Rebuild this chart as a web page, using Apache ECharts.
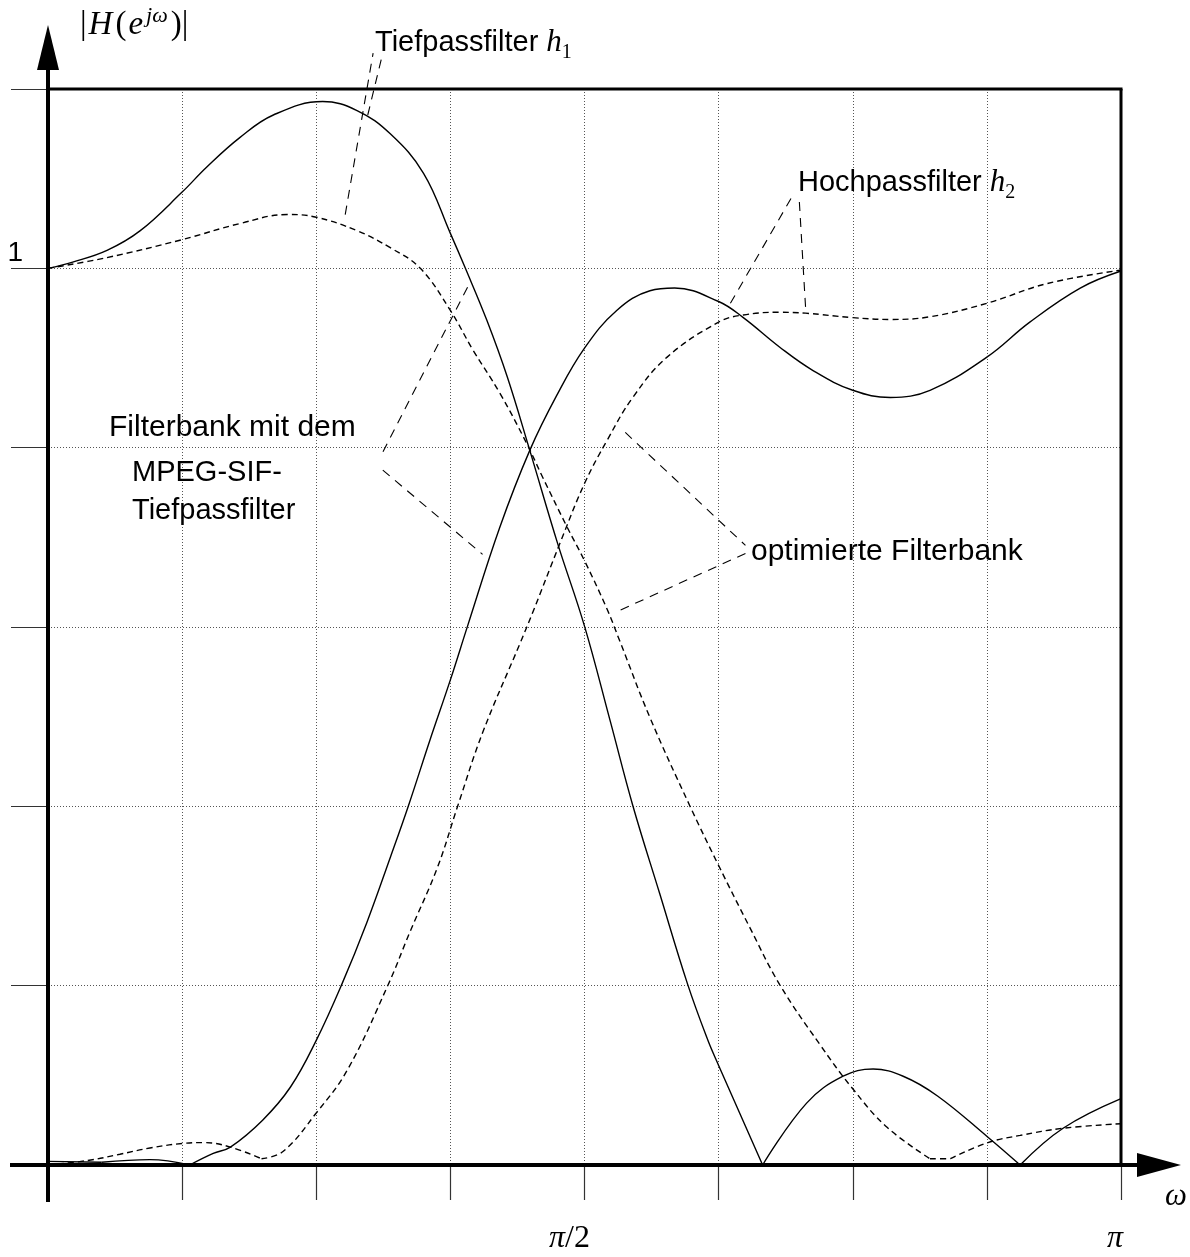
<!DOCTYPE html>
<html>
<head>
<meta charset="utf-8">
<script src="https://cdn.jsdelivr.net/npm/echarts@6/dist/echarts.min.js"></script>
<style>
  html, body { margin: 0; padding: 0; background: #fff; }
  #chart { width: 1190px; height: 1257px; }
</style>
</head>
<body>
<div id="chart"></div>
<script>
// Frequency response magnitudes |H(e^jw)|, x given as w/pi.
// Filter bank built with the MPEG-SIF lowpass (solid curves)
const mpegLowpass = [
  [0, 1.000], [0.023, 1.007], [0.055, 1.020], [0.086, 1.042], [0.125, 1.085],
  [0.148, 1.113], [0.179, 1.146], [0.210, 1.171], [0.256, 1.186], [0.288, 1.176],
  [0.319, 1.150], [0.350, 1.106], [0.375, 1.039], [0.389, 1.000], [0.409, 0.942],
  [0.428, 0.879], [0.449, 0.797], [0.475, 0.693], [0.500, 0.601], [0.524, 0.495],
  [0.545, 0.401], [0.570, 0.303], [0.596, 0.202], [0.615, 0.139], [0.625, 0.111],
  [0.666, 0.000], [0.707, 0.069], [0.741, 0.099], [0.769, 0.107], [0.797, 0.099],
  [0.829, 0.077], [0.876, 0.031], [0.906, 0.000], [0.946, 0.041], [1.000, 0.074]
];
const mpegHighpass = [
  [0, 0.004], [0.050, 0.003], [0.095, 0.006], [0.132, 0.000], [0.154, 0.013],
  [0.170, 0.020], [0.200, 0.050], [0.226, 0.087], [0.250, 0.139], [0.274, 0.202],
  [0.297, 0.270], [0.319, 0.343], [0.336, 0.401], [0.356, 0.474], [0.375, 0.541],
  [0.391, 0.601], [0.421, 0.711], [0.449, 0.797], [0.474, 0.858], [0.500, 0.911],
  [0.530, 0.953], [0.561, 0.975], [0.584, 0.978], [0.625, 0.963], [0.648, 0.945],
  [0.682, 0.912], [0.713, 0.886], [0.750, 0.864], [0.785, 0.856], [0.822, 0.864],
  [0.875, 0.901], [0.915, 0.940], [0.962, 0.978], [1.000, 0.997]
];
// Optimised filter bank (dashed curves)
const optLowpass = [
  [0, 1.000], [0.055, 1.012], [0.125, 1.032], [0.179, 1.050], [0.223, 1.060],
  [0.250, 1.057], [0.288, 1.042], [0.319, 1.023], [0.347, 1.000], [0.375, 0.953],
  [0.396, 0.909], [0.421, 0.861], [0.446, 0.805], [0.461, 0.767], [0.484, 0.711],
  [0.500, 0.674], [0.521, 0.620], [0.533, 0.584], [0.561, 0.499], [0.598, 0.401],
  [0.625, 0.334], [0.654, 0.265], [0.682, 0.201], [0.719, 0.135], [0.750, 0.085],
  [0.782, 0.042], [0.822, 0.007], [0.841, 0.007], [0.876, 0.025], [0.906, 0.033],
  [0.946, 0.041], [1.000, 0.046]
];
const optHighpass = [
  [0, 0.000], [0.037, 0.005], [0.067, 0.012], [0.095, 0.019], [0.125, 0.024],
  [0.146, 0.025], [0.170, 0.020], [0.199, 0.007], [0.219, 0.015], [0.250, 0.058],
  [0.279, 0.106], [0.317, 0.201], [0.337, 0.259], [0.363, 0.332], [0.382, 0.401],
  [0.405, 0.482], [0.440, 0.582], [0.452, 0.617], [0.477, 0.693], [0.500, 0.760],
  [0.521, 0.808], [0.545, 0.856], [0.577, 0.901], [0.625, 0.940], [0.648, 0.948],
  [0.682, 0.951], [0.706, 0.950], [0.750, 0.945], [0.785, 0.943], [0.822, 0.946],
  [0.875, 0.961], [0.931, 0.983], [1.000, 0.998]
];

// Tick labels (x in units of pi)
const xTickLabels = [[0.5, '{pi|π}{r|/2}'], [1, '{pi|π}']];
const yTickLabels = [[1, '1']];

// Leader lines from the annotations to the curves (data coordinates)
const leaderTiefpass = [
  [[0.277, 1.060], [0.303, 1.240]],
  [[0.298, 1.171], [0.312, 1.240]]
];
const leaderHochpass = [
  [[0.636, 0.961], [0.693, 1.079]],
  [[0.706, 0.957], [0.700, 1.079]]
];
const leaderMpeg = [
  [[0.391, 0.979], [0.312, 0.795]],
  [[0.312, 0.775], [0.405, 0.681]]
];
const leaderOpt = [
  [[0.538, 0.817], [0.650, 0.691]],
  [[0.650, 0.682], [0.530, 0.617]]
];

// Split a curve at its near-zero notches so each lobe is smoothed separately
function splitAtNotches(pts) {
  const segs = [];
  let cur = [pts[0]];
  for (let i = 1; i < pts.length; i++) {
    cur.push(pts[i]);
    const last = i === pts.length - 1;
    if (!last && pts[i][1] < 0.012 && pts[i][1] <= pts[i - 1][1] && pts[i][1] <= pts[i + 1][1]) {
      segs.push(cur);
      cur = [pts[i]];
    }
  }
  segs.push(cur);
  return segs;
}

const series = [];
function addCurve(pts, dashed) {
  splitAtNotches(pts).forEach(seg => {
    series.push({
      type: 'line', data: seg, showSymbol: false, smooth: 0.4,
      silent: true, animation: false, z: 3,
      lineStyle: { color: '#000', width: 1.4, type: dashed ? [6, 4] : 'solid' }
    });
  });
}
addCurve(mpegLowpass, false);
addCurve(mpegHighpass, false);
addCurve(optLowpass, true);
addCurve(optHighpass, true);

[leaderTiefpass, leaderHochpass, leaderMpeg, leaderOpt].forEach(group => {
  group.forEach(line => {
    series.push({
      type: 'line', data: line, showSymbol: false, smooth: false, silent: true,
      clip: false, animation: false, z: 4,
      lineStyle: { color: '#000', width: 1.1, type: [9, 7] }
    });
  });
});

function labelFor(list, v) {
  const hit = list.find(t => Math.abs(t[0] - v) < 1e-9);
  return hit ? hit[1] : '';
}

const chart = echarts.init(document.getElementById('chart'), null, { renderer: 'canvas' });
chart.setOption({
  animation: false,
  backgroundColor: '#fff',
  grid: { left: 48, right: 69, top: 89, bottom: 92, containLabel: false, outerBoundsMode: 'none' },
  xAxis: {
    type: 'value', min: 0, max: 1, interval: 0.125,
    axisLine: { show: false },
    axisTick: { show: true, length: 35, lineStyle: { color: '#333', width: 1.2 } },
    splitLine: { show: true, lineStyle: { color: '#555', width: 1, type: [1, 2] } },
    axisLabel: {
      show: true, margin: 56, color: '#000', showMinLabel: true, showMaxLabel: true,
      formatter: v => {
        const s = labelFor(xTickLabels, v);
        if (!s) return '';
        return Math.abs(v - 1) < 1e-9 ? s + '{gap1|}' : s + '{gap2|}';
      },
      rich: {
        pi: { fontFamily: 'Liberation Serif', fontStyle: 'italic', fontSize: 32, lineHeight: 36 },
        r: { fontFamily: 'Liberation Serif', fontSize: 32, lineHeight: 36 },
        gap1: { width: 12, lineHeight: 36 },
        gap2: { width: 30, lineHeight: 36 }
      }
    }
  },
  yAxis: {
    type: 'value', min: 0, max: 1.2, interval: 0.2,
    axisLine: { show: false },
    axisTick: { show: true, length: 37, lineStyle: { color: '#333', width: 1.2 } },
    splitLine: { show: true, lineStyle: { color: '#555', width: 1, type: [1, 2] } },
    axisLabel: {
      show: true, margin: 25, color: '#000', align: 'right', verticalAlign: 'bottom',
      fontFamily: 'Liberation Sans', fontSize: 28, lineHeight: 30,
      showMinLabel: true, showMaxLabel: true,
      formatter: v => labelFor(yTickLabels, v)
    }
  },
  series: series
});

// Axes with arrow heads, frame and annotation texts
const o = chart.convertToPixel({ gridIndex: 0 }, [0, 0]);
const tr = chart.convertToPixel({ gridIndex: 0 }, [1, 1.2]);

const sansRich = {
  t: { fontFamily: 'Liberation Sans', fontSize: 29, lineHeight: 40 },
  w: { fontFamily: 'Liberation Sans', fontSize: 30, lineHeight: 40 },
  m: { fontFamily: 'Liberation Serif', fontStyle: 'italic', fontSize: 31, lineHeight: 40 },
  sub: { fontFamily: 'Liberation Serif', fontSize: 20, lineHeight: 20, verticalAlign: 'bottom' }
};
const mathRich = {
  r: { fontFamily: 'Liberation Serif', fontSize: 33, lineHeight: 40, padding: [0, 1, 0, 1] },
  i: { fontFamily: 'Liberation Serif', fontStyle: 'italic', fontSize: 33, lineHeight: 40, padding: [0, 2, 0, 1] },
  sup: { fontFamily: 'Liberation Serif', fontStyle: 'italic', fontSize: 22, lineHeight: 26, verticalAlign: 'top', padding: [0, 2, 0, 1] }
};

function txt(x, y, text, rich) {
  return { type: 'text', x: x, y: y, z: 10, silent: true,
    style: { text: text, rich: rich, fill: '#000', align: 'left', verticalAlign: 'top' } };
}
function seg(x1, y1, x2, y2, w) {
  return { type: 'line', z: 8, silent: true, shape: { x1, y1, x2, y2 },
    style: { stroke: '#000', lineWidth: w, lineCap: 'butt' } };
}

chart.setOption({
  graphic: [
    // y axis with arrow
    seg(o[0], o[1] + 37, o[0], tr[1] - 19, 4),
    { type: 'polygon', z: 9, silent: true,
      shape: { points: [[o[0], tr[1] - 64], [o[0] - 11, tr[1] - 19], [o[0] + 11, tr[1] - 19]] },
      style: { fill: '#000' } },
    // x axis with arrow
    seg(o[0] - 38, o[1], tr[0] + 16, o[1], 4),
    { type: 'polygon', z: 9, silent: true,
      shape: { points: [[tr[0] + 60, o[1]], [tr[0] + 16, o[1] - 12], [tr[0] + 16, o[1] + 12]] },
      style: { fill: '#000' } },
    // frame: top and right
    seg(o[0], tr[1], tr[0] + 1.5, tr[1], 3),
    seg(tr[0], tr[1], tr[0], o[1], 3),
    // axis titles
    txt(79, 5, '{r||}{i|H}{r|(}{i|e}{sup|jω}{r|)|}', mathRich),
    { type: 'text', x: 1176, y: 1197, z: 10, silent: true,
      style: { text: 'ω', fill: '#000', align: 'center', verticalAlign: 'middle',
        font: 'italic 31px "Liberation Serif"' } },
    // annotations
    txt(375, 23, '{t|Tiefpassfilter }{m|h}{sub|1}', sansRich),
    txt(798, 163, '{t|Hochpassfilter }{m|h}{sub|2}', sansRich),
    txt(109, 408, '{w|Filterbank mit dem}', sansRich),
    txt(132, 453, '{t|MPEG-SIF-}', sansRich),
    txt(132, 491, '{t|Tiefpassfilter}', sansRich),
    txt(751, 532, '{w|optimierte Filterbank}', sansRich)
  ]
});
</script>
</body>
</html>
